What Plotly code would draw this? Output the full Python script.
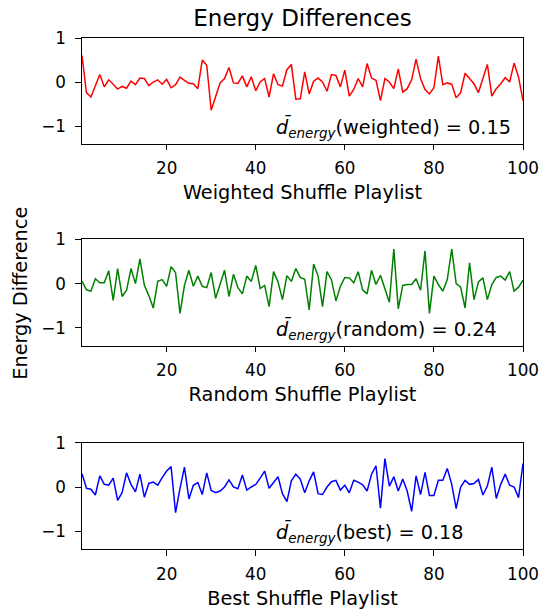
import plotly.graph_objects as go
from plotly.subplots import make_subplots

x_idx = list(range(1, 101))

weighted = [0.6, -0.24, -0.34, -0.08, 0.17, -0.11, 0.05, -0.05, -0.16, -0.1,
            -0.14, 0.02, -0.06, 0.09, 0.08, -0.08, 0.0, 0.05, -0.05, 0.06,
            -0.13, -0.06, 0.11, 0.04, -0.03, -0.04, -0.15, 0.5, 0.38, -0.64,
            -0.3, -0.02, 0.08, 0.33, -0.02, -0.03, 0.14, -0.11, 0.12, -0.2,
            0.0, 0.08, -0.34, 0.19, -0.06, -0.09, 0.28, 0.4, -0.39, -0.38,
            0.23, -0.27, 0.02, 0.09, 0.0, -0.21, 0.17, 0.15, -0.11, 0.27,
            -0.32, -0.17, 0.08, -0.11, 0.42, 0.09, 0.04, -0.42, 0.08, 0.0,
            -0.15, 0.3, -0.23, -0.15, 0.05, 0.52, 0.08, -0.17, -0.27, -0.13,
            0.59, -0.06, -0.02, -0.05, -0.36, -0.24, 0.2, 0.08, -0.04, -0.24,
            0.08, 0.4, -0.32, -0.15, -0.04, 0.1, 0.0, 0.43, 0.11, -0.42]

random_ = [0.05, -0.14, -0.17, 0.11, 0.02, 0.02, 0.29, -0.38, 0.34, -0.29,
           -0.15, 0.34, 0.0, 0.56, -0.04, -0.27, -0.55, 0.05, 0.09, -0.06,
           0.38, 0.25, -0.67, -0.04, 0.3, -0.06, 0.17, -0.06, -0.09, 0.25,
           -0.33, 0.0, 0.3, -0.29, 0.21, -0.09, -0.23, 0.17, 0.05, 0.41,
           -0.11, -0.04, -0.52, 0.27, 0.04, -0.36, 0.18, 0.05, 0.34, 0.14,
           0.1, -0.59, 0.44, 0.17, -0.52, 0.27, 0.09, -0.39, -0.06, 0.14,
           0.13, 0.02, 0.27, -0.14, -0.23, 0.3, -0.02, 0.19, -0.11, -0.42,
           0.78, -0.57, -0.04, -0.02, -0.02, 0.11, -0.15, 0.74, -0.67, 0.17,
           -0.02, -0.17, 0.09, 0.78, 0.0, -0.08, -0.55, 0.47, -0.36, 0.04,
           0.13, -0.36, -0.02, 0.14, 0.17, 0.08, 0.27, -0.17, -0.08, 0.08]

best = [0.3, -0.03, -0.05, -0.18, 0.25, 0.06, 0.04, 0.2, -0.3, -0.13,
        0.32, 0.06, -0.11, 0.29, -0.23, 0.08, 0.11, 0.04, 0.21, 0.36,
        0.46, -0.58, -0.03, 0.45, -0.27, 0.04, 0.1, -0.17, 0.32, -0.08,
        -0.13, -0.09, 0.0, 0.16, 0.0, -0.04, 0.27, -0.07, 0.0, 0.06,
        0.2, 0.36, -0.03, 0.1, 0.23, -0.15, -0.33, 0.14, 0.29, 0.18,
        -0.13, 0.14, 0.34, -0.15, -0.17, 0.0, 0.12, 0.15, -0.07, 0.04,
        -0.13, 0.15, 0.11, 0.05, -0.09, 0.29, 0.48, -0.48, 0.64, 0.02,
        0.23, -0.09, 0.18, -0.09, -0.55, 0.25, -0.17, 0.33, -0.19, -0.19,
        0.15, 0.15, 0.42, 0.06, -0.49, 0.0, 0.15, 0.06, 0.08, 0.17,
        -0.18, 0.02, 0.45, -0.26, 0.06, 0.29, 0.04, 0.0, -0.24, 0.53]

series_names = ["weighted", "random", "best"]
series_values = [weighted, random_, best]
series_colors = ["#ff0000", "#008000", "#0000ff"]
x_titles = ["Weighted Shuffle Playlist", "Random Shuffle Playlist", "Best Shuffle Playlist"]
d_means = ["0.15", "0.24", "0.18"]
x_tick_vals = [20, 40, 60, 80, 100]
y_tick_vals = [-1, 0, 1]

FONT = "DejaVu Sans"
TICK_FS = 16.8
LABEL_FS = 19.3
TITLE_FS = 23

fig = make_subplots(rows=3, cols=1)

domains = [[0.7932, 1.0], [0.3978, 0.6061], [0.0, 0.2080]]

for i, (name, vals, col) in enumerate(zip(series_names, series_values, series_colors)):
    r = i + 1
    axis_common = dict(showline=True, linecolor="black", linewidth=1.2, mirror=True,
                       ticks="outside", ticklen=5.5, tickwidth=1.2, tickcolor="black",
                       showgrid=False, zeroline=False, automargin=False,
                       tickfont=dict(family=FONT, size=TICK_FS, color="black"))
    fig.add_trace(go.Scatter(x=x_idx, y=vals, mode="lines",
                             line=dict(color=col, width=1.5),
                             name=name, showlegend=False), row=r, col=1)
    fig.update_xaxes(range=[1, 100], tickvals=x_tick_vals, ticklabelstandoff=4,
                     title=dict(text=x_titles[i], font=dict(family=FONT, size=LABEL_FS, color="black"),
                                standoff=8),
                     row=r, col=1, **axis_common)
    fig.update_yaxes(range=[-1.4, 1], tickvals=y_tick_vals, domain=domains[i],
                     ticklabelstandoff=6,
                     row=r, col=1, **axis_common)
    xref = "x" if r == 1 else f"x{r}"
    yref = "y" if r == 1 else f"y{r}"
    fig.add_annotation(x=44, y=-1.03, xref=xref, yref=yref,
                       xanchor="left", yanchor="middle", showarrow=False,
                       text=f"<i>d\u0304</i><sub><i>energy</i></sub>({name}) = {d_means[i]}",
                       font=dict(family=FONT, size=LABEL_FS, color="black"))

fig.add_annotation(x=-0.14, y=0.5, xref="paper", yref="paper", textangle=-90,
                   showarrow=False, xanchor="center", yanchor="middle",
                   text="Energy Difference",
                   font=dict(family=FONT, size=LABEL_FS, color="black"))

fig.update_layout(
    width=541, height=610,
    margin=dict(l=82, r=18, t=38, b=61),
    paper_bgcolor="white", plot_bgcolor="white",
    title=dict(text="Energy Differences", x=0.5, xanchor="center",
               xref="paper", y=1 - 18 / 610, yanchor="middle",
               font=dict(family=FONT, size=TITLE_FS, color="black")),
    font=dict(family=FONT, size=LABEL_FS, color="black"),
)

fig.write_html("out.html",
               config={"displayModeBar": False},
               post_script="document.body.style.margin='0';document.body.style.padding='0';")
